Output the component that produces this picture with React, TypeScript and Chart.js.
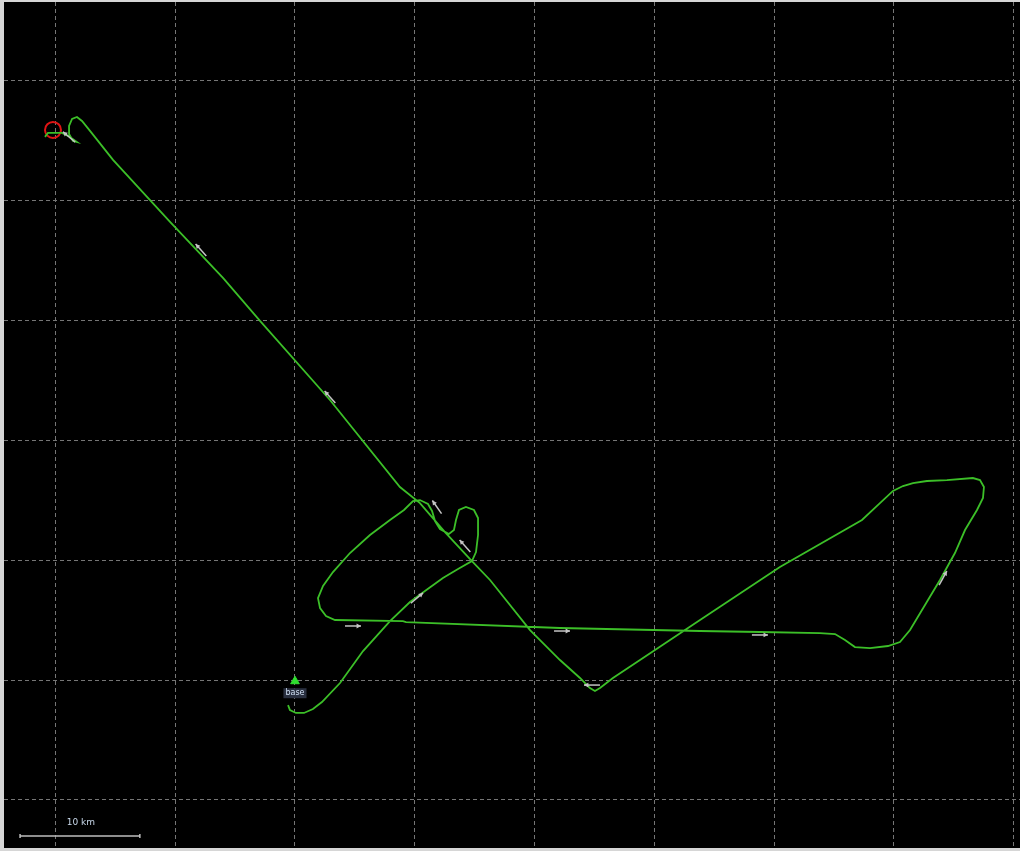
import React, { useEffect, useRef } from "react";
import { Chart, registerables } from "chart.js";

Chart.register(...registerables);

// Flight track, km east / km north of the take-off point
const trackX = [
  -0.58, -0.42, 0.08, 0.75, 1.5, 2.25, 3.76, 5.68, 7.93, 9.6, 10.85, 12.35, 13.61, 14.77,
  15.11, 15.28, 15.28, 14.94, 14.27, 13.69, 13.44, 13.27, 12.85, 12.1, 11.69, 11.44, 11.1,
  10.43, 9.85, 9.1, 7.93, 6.26, 4.59, 3.17, 2.34, 1.92, 2.09, 2.59, 3.34, 9.01, 9.27, 22.12,
  33.81, 38.81, 43.82, 45.08, 45.91, 46.74, 48.0, 49.5, 50.5, 51.34, 52.59, 53.84, 55.09,
  55.93, 56.93, 57.43, 57.51, 57.18, 56.59, 54.42, 52.75, 51.59, 50.75, 49.92, 48.83, 47.33,
  40.48, 33.81, 28.8, 26.54, 25.46, 25.04, 24.62, 23.79, 22.12, 19.62, 16.28, 14.77, 12.52,
  10.43, 8.76, 2.92, -2.92, -6.01, -10.43, -15.19, -17.11, -17.78, -18.2, -18.61, -18.86,
  -18.86, -18.53, -18.2, -18.78, -19.45, -20.62, -20.87,
];
const trackY = [
  -2.09, -2.5, -2.75, -2.75, -2.42, -1.84, -0.25, 2.42, 4.92, 6.51, 7.43, 8.51, 9.27, 9.93,
  10.68, 12.1, 13.52, 14.19, 14.44, 14.19, 13.36, 12.52, 12.19, 12.6, 13.27, 14.11, 14.69,
  15.02, 14.94, 14.19, 13.36, 12.1, 10.6, 9.01, 7.85, 6.84, 6.01, 5.34, 5.01, 4.92, 4.84, 4.34,
  4.09, 4.01, 3.92, 3.84, 3.34, 2.75, 2.67, 2.84, 3.17, 4.17, 6.26, 8.35, 10.6, 12.52, 14.19,
  15.19, 16.11, 16.69, 16.86, 16.69, 16.61, 16.44, 16.19, 15.78, 14.77, 13.36, 9.43, 5.01,
  1.67, 0.17, -0.67, -0.92, -0.67, 0.17, 1.67, 4.17, 8.35, 9.93, 12.35, 14.77, 16.11, 23.37,
  29.97, 33.56, 38.23, 43.41, 45.83, 46.66, 46.99, 46.83, 46.24, 45.58, 44.99, 44.91, 45.33,
  45.66, 45.66, 45.33,
];

// Direction arrows (position in km, heading in degrees, 0 = east, 90 = north)
const arrowX = [-7.85, 2.92, 11.85, 14.19, 10.18, 4.84, 22.29, 38.81, 54.09, 24.79, -18.86];
const arrowY = [35.89, 23.62, 14.44, 11.19, 6.84, 4.51, 4.09, 3.76, 8.51, -0.42, 45.33];
const arrowDir = [132, 132, 125, 132, 40, 0, 0, 0, 61, 180, 140];

// Turn point and take-off
const turnX = [-20.2];
const turnY = [45.91];
const takeoffX = [0];
const takeoffY = [-0.1];
const takeoffLabel = "base";

// Grid (10 km)
const gridX = [-20, -10, 0, 10, 20, 30, 40, 50, 60];
const gridY = [-10, 0, 10, 20, 30, 40, 50];
const X_MIN = -24.29;
const X_MAX = 60.52;
const Y_MIN = -14.02;
const Y_MAX = 56.59;

// Scale bar
const scaleBarX = [-22.95, -12.95];
const scaleBarY = -13.02;
const scaleBarLabel = "10 km";

export default function App() {
  const ref = useRef<HTMLCanvasElement | null>(null);

  useEffect(() => {
    document.body.style.margin = "0";
    const canvas = ref.current;
    if (!canvas) return;

    const bgPlugin = {
      id: "bg",
      beforeDraw(chart: any) {
        const { ctx, chartArea } = chart;
        ctx.save();
        ctx.fillStyle = "#d6d6d6";
        ctx.fillRect(0, 0, chart.width, chart.height);
        ctx.fillStyle = "#000000";
        ctx.fillRect(chartArea.left, chartArea.top, chartArea.right - chartArea.left, chartArea.bottom - chartArea.top);
        ctx.restore();
      },
    };

    const overlayPlugin = {
      id: "overlay",
      afterDatasetsDraw(chart: any) {
        const { ctx } = chart;
        const xs = chart.scales.x;
        const ys = chart.scales.y;
        ctx.save();
        // arrows
        ctx.strokeStyle = "#c4c4c4";
        ctx.fillStyle = "#c4c4c4";
        ctx.lineWidth = 1.5;
        for (let i = 0; i < arrowX.length; i++) {
          const cx = xs.getPixelForValue(arrowX[i]);
          const cy = ys.getPixelForValue(arrowY[i]);
          const a = (arrowDir[i] * Math.PI) / 180;
          const dx = Math.cos(a);
          const dy = -Math.sin(a);
          const L = 16;
          const hx = cx + (dx * L) / 2;
          const hy = cy + (dy * L) / 2;
          const tx = cx - (dx * L) / 2;
          const ty = cy - (dy * L) / 2;
          ctx.beginPath();
          ctx.moveTo(tx, ty);
          ctx.lineTo(hx, hy);
          ctx.stroke();
          const h = 5;
          const a1 = a + Math.PI - 0.5;
          const a2 = a + Math.PI + 0.5;
          ctx.beginPath();
          ctx.moveTo(hx, hy);
          ctx.lineTo(hx + Math.cos(a1) * h, hy - Math.sin(a1) * h);
          ctx.lineTo(hx + Math.cos(a2) * h, hy - Math.sin(a2) * h);
          ctx.closePath();
          ctx.fill();
        }
        // take-off label
        const lx = xs.getPixelForValue(takeoffX[0]);
        const ly = ys.getPixelForValue(takeoffY[0]) + 12;
        ctx.font = "8px 'DejaVu Sans', sans-serif";
        ctx.textAlign = "center";
        ctx.textBaseline = "middle";
        const tw = ctx.measureText(takeoffLabel).width;
        ctx.fillStyle = "#2a3040";
        ctx.fillRect(lx - tw / 2 - 2, ly - 5, tw + 4, 10);
        ctx.fillStyle = "#d0e0f4";
        ctx.fillText(takeoffLabel, lx, ly);
        // scale bar
        const sx0 = xs.getPixelForValue(scaleBarX[0]);
        const sx1 = xs.getPixelForValue(scaleBarX[1]);
        const sy = ys.getPixelForValue(scaleBarY);
        ctx.strokeStyle = "#bdbdbd";
        ctx.lineWidth = 1.5;
        ctx.beginPath();
        ctx.moveTo(sx0, sy);
        ctx.lineTo(sx1, sy);
        ctx.moveTo(sx0, sy - 2);
        ctx.lineTo(sx0, sy + 2);
        ctx.moveTo(sx1, sy - 2);
        ctx.lineTo(sx1, sy + 2);
        ctx.stroke();
        ctx.font = "9px 'DejaVu Sans', sans-serif";
        ctx.fillStyle = "#c8d8ea";
        ctx.textAlign = "center";
        ctx.textBaseline = "middle";
        ctx.fillText(scaleBarLabel, (sx0 + sx1) / 2 + 1, sy - 13);
        ctx.restore();
      },
    };

    const gridOpts = {
      color: "#767676",
      lineWidth: 1,
      drawTicks: false,
    };

    const chart = new Chart(canvas, {
      type: "scatter",
      data: {
        datasets: [
          {
            label: "track",
            data: trackX.map((x, i) => ({ x, y: trackY[i] })),
            showLine: true,
            borderColor: "#3cbf28",
            borderWidth: 1.8,
            pointRadius: 0,
            tension: 0,
          } as any,
          {
            label: "turnpoint",
            data: turnX.map((x, i) => ({ x, y: turnY[i] })),
            pointStyle: "circle",
            pointRadius: 8,
            borderColor: "#e01414",
            borderWidth: 2,
            backgroundColor: "rgba(0,0,0,0)",
          } as any,
          {
            label: "takeoff",
            data: takeoffX.map((x, i) => ({ x, y: takeoffY[i] })),
            pointStyle: "triangle",
            pointRadius: 5,
            borderColor: "#30e030",
            backgroundColor: "#30e030",
            borderWidth: 1,
          } as any,
        ],
      },
      options: {
        responsive: false,
        animation: false,
        events: [],
        layout: { autoPadding: false, padding: { left: 4, top: 2, right: 0, bottom: 3 } },
        plugins: { legend: { display: false }, tooltip: { enabled: false } },
        scales: {
          x: {
            type: "linear",
            min: X_MIN,
            max: X_MAX,
            ticks: { display: false },
            border: { display: false, dash: [4, 3] },
            grid: gridOpts,
            afterBuildTicks: (s: any) => {
              s.ticks = gridX.map((v) => ({ value: v }));
            },
          },
          y: {
            type: "linear",
            min: Y_MIN,
            max: Y_MAX,
            ticks: { display: false },
            border: { display: false, dash: [4, 3] },
            grid: gridOpts,
            afterBuildTicks: (s: any) => {
              s.ticks = gridY.map((v) => ({ value: v }));
            },
          },
        },
      } as any,
      plugins: [bgPlugin, overlayPlugin],
    });

    return () => chart.destroy();
  }, []);

  return (
    <div style={{ position: "absolute", left: 0, top: 0, width: 1020, height: 851 }}>
      <canvas ref={ref} width={1020} height={851} style={{ display: "block" }} />
    </div>
  );
}
